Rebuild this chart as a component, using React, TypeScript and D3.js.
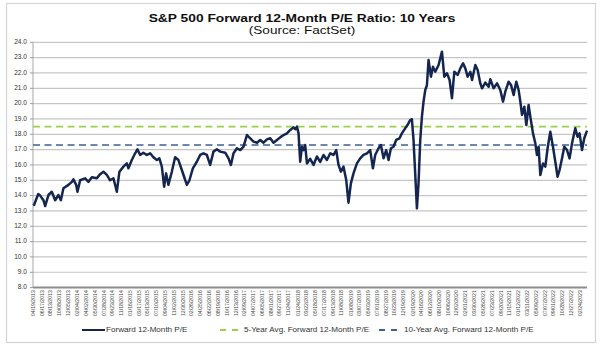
import React from "react";
import * as d3 from "d3";

const TITLE = "S&P 500 Forward 12-Month P/E Ratio: 10 Years";
const SUBTITLE = "(Source: FactSet)";

const X_LABELS = [
  "04/19/2013", "06/17/2013", "08/13/2013", "10/08/2013", "12/05/2013",
  "02/04/2014", "04/02/2014", "05/30/2014", "07/28/2014", "09/23/2014", "11/18/2014",
  "01/16/2015", "03/17/2015", "05/13/2015", "07/10/2015", "09/04/2015", "11/02/2015", "12/30/2015",
  "02/26/2016", "04/25/2016", "06/22/2016", "08/19/2016", "10/17/2016", "12/13/2016",
  "02/09/2017", "04/07/2017", "06/05/2017", "08/01/2017", "09/27/2017", "11/24/2017",
  "01/24/2018", "03/22/2018", "05/18/2018", "07/17/2018", "09/13/2018", "11/08/2018",
  "01/08/2019", "03/07/2019", "05/03/2019", "07/01/2019", "08/27/2019", "10/23/2019", "12/19/2019",
  "02/19/2020", "04/16/2020", "06/12/2020", "08/10/2020", "10/06/2020", "12/02/2020",
  "02/01/2021", "03/30/2021", "05/26/2021", "07/23/2021", "09/20/2021", "11/15/2021",
  "01/12/2022", "03/11/2022", "05/09/2022", "07/07/2022", "09/01/2022", "10/28/2022", "12/27/2022",
  "02/24/2023",
];

const Y_TICKS = [8, 9, 10, 11, 12, 13, 14, 15, 16, 17, 18, 19, 20, 21, 22, 23, 24];

const AVG_5Y = 18.5;
const AVG_10Y = 17.3;

const LEGEND_LABELS = [
  "Forward 12-Month P/E",
  "5-Year Avg. Forward 12-Month P/E",
  "10-Year Avg. Forward 12-Month P/E",
];

// [decimal year, forward 12-month P/E]
const FORWARD_PE: [number, number][] = [
  [2013.299, 13.35], [2013.317, 13.4], [2013.389, 14.1], [2013.425, 14.0], [2013.484, 13.7],
  [2013.515, 13.32], [2013.574, 14.04], [2013.635, 14.25], [2013.695, 13.7], [2013.754, 14.04],
  [2013.798, 13.7], [2013.844, 14.48], [2013.934, 14.7], [2013.996, 14.9], [2014.024, 15.06],
  [2014.073, 14.7], [2014.097, 14.25], [2014.145, 15.0], [2014.235, 15.13], [2014.295, 14.9],
  [2014.356, 15.2], [2014.446, 15.13], [2014.505, 15.4], [2014.565, 15.56], [2014.626, 15.35],
  [2014.685, 15.0], [2014.745, 15.13], [2014.806, 14.25], [2014.853, 15.56], [2014.925, 15.89],
  [2014.986, 16.1], [2015.015, 15.78], [2015.076, 16.32], [2015.136, 16.76], [2015.177, 17.02],
  [2015.226, 16.65], [2015.285, 16.8], [2015.346, 16.65], [2015.406, 16.76], [2015.465, 16.5],
  [2015.527, 16.32], [2015.573, 16.43], [2015.617, 15.89], [2015.658, 14.58], [2015.694, 15.45],
  [2015.735, 14.7], [2015.797, 15.56], [2015.856, 16.5], [2015.916, 16.32], [2015.977, 15.67],
  [2016.018, 15.23], [2016.067, 14.7], [2016.114, 15.0], [2016.175, 15.78], [2016.247, 16.21],
  [2016.306, 16.65], [2016.366, 16.76], [2016.427, 16.65], [2016.486, 16.0], [2016.546, 16.87],
  [2016.607, 17.02], [2016.667, 16.87], [2016.757, 16.8], [2016.816, 16.43], [2016.859, 16.0],
  [2016.906, 16.76], [2016.967, 17.09], [2017.027, 16.97], [2017.086, 17.19], [2017.147, 17.95],
  [2017.207, 17.74], [2017.266, 17.52], [2017.328, 17.45], [2017.387, 17.63], [2017.446, 17.45],
  [2017.508, 17.67], [2017.567, 17.74], [2017.626, 17.45], [2017.688, 17.63], [2017.747, 17.8],
  [2017.807, 17.95], [2017.868, 18.06], [2017.928, 18.28], [2017.987, 18.45], [2018.017, 18.33],
  [2018.048, 18.5], [2018.077, 18.06], [2018.107, 16.21], [2018.138, 17.19], [2018.167, 16.97],
  [2018.197, 17.3], [2018.228, 16.1], [2018.287, 16.4], [2018.347, 16.0], [2018.408, 16.55],
  [2018.467, 16.2], [2018.527, 16.65], [2018.588, 16.32], [2018.648, 16.76], [2018.707, 16.65],
  [2018.756, 16.97], [2018.797, 16.0], [2018.84, 15.56], [2018.887, 15.89], [2018.936, 15.02],
  [2018.977, 13.54], [2019.02, 14.8], [2019.067, 15.45], [2019.129, 16.1], [2019.188, 16.43],
  [2019.247, 16.65], [2019.309, 16.76], [2019.368, 16.97], [2019.417, 15.78], [2019.458, 16.65],
  [2019.518, 17.09], [2019.561, 17.3], [2019.608, 16.43], [2019.656, 16.97], [2019.698, 16.32],
  [2019.741, 17.09], [2019.788, 17.19], [2019.836, 17.63], [2019.896, 17.74], [2019.939, 18.06],
  [2019.998, 18.39], [2020.04, 18.6], [2020.088, 18.93], [2020.119, 18.98], [2020.148, 17.63],
  [2020.178, 15.45], [2020.209, 13.17], [2020.238, 14.8], [2020.269, 17.63], [2020.299, 19.15],
  [2020.328, 20.13], [2020.359, 20.89], [2020.389, 21.2], [2020.418, 22.85], [2020.461, 21.76],
  [2020.497, 22.4], [2020.539, 22.08], [2020.598, 22.52], [2020.659, 23.39], [2020.701, 21.76],
  [2020.749, 21.98], [2020.796, 21.54], [2020.839, 20.35], [2020.881, 22.08], [2020.94, 21.87],
  [2020.989, 22.3], [2021.038, 22.63], [2021.079, 22.3], [2021.12, 21.76], [2021.169, 22.08],
  [2021.2, 21.54], [2021.259, 22.52], [2021.301, 22.19], [2021.349, 21.32], [2021.38, 21.0],
  [2021.439, 21.37], [2021.499, 21.1], [2021.529, 21.59], [2021.589, 21.0], [2021.65, 21.32],
  [2021.709, 20.89], [2021.758, 20.13], [2021.799, 20.78], [2021.859, 21.43], [2021.902, 21.22],
  [2021.949, 20.56], [2021.997, 21.43], [2022.039, 20.89], [2022.07, 20.13], [2022.1, 19.26],
  [2022.142, 19.8], [2022.178, 18.6], [2022.219, 19.91], [2022.25, 19.15], [2022.298, 18.06],
  [2022.34, 17.41], [2022.37, 16.65], [2022.399, 17.19], [2022.43, 15.35], [2022.478, 16.1],
  [2022.52, 15.89], [2022.561, 17.09], [2022.61, 18.17], [2022.658, 17.19], [2022.7, 16.21],
  [2022.741, 15.23], [2022.777, 15.67], [2022.821, 16.43], [2022.862, 17.19], [2022.911, 16.97],
  [2022.957, 16.43], [2023.001, 17.41], [2023.06, 18.39], [2023.101, 17.84], [2023.137, 18.06],
  [2023.181, 16.97], [2023.222, 17.74], [2023.271, 18.24],
];

const W = 605;
const H = 351;
const FONT = "Liberation Sans, Arial, sans-serif";

function yearToDate(y: number): Date {
  const yr = Math.floor(y);
  const a = new Date(yr, 0, 1).getTime();
  const b = new Date(yr + 1, 0, 1).getTime();
  return new Date(a + (y - yr) * (b - a));
}

const parseLabel = d3.timeParse("%m/%d/%Y");

export default function App() {
  const left = 33;
  const right = 587;
  const top = 42.3;
  const bottom = 287.6;

  const pts = FORWARD_PE.map(([t, v]) => ({ date: yearToDate(t), v }));
  const x = d3
    .scaleTime()
    .domain([parseLabel(X_LABELS[0]) as Date, pts[pts.length - 1].date])
    .range([left, right]);
  const y = d3.scaleLinear().domain([8, 24]).range([bottom, top]);

  const line = d3
    .line<{ date: Date; v: number }>()
    .x((d) => x(d.date))
    .y((d) => y(d.v))
    .curve(d3.curveLinear);

  const legendY = 330;

  return (
    <svg
      width={W}
      height={H}
      style={{ position: "absolute", left: 0, top: 0, background: "#fff" }}
      fontFamily={FONT}
    >
      <rect x={0} y={0} width={W} height={H} fill="#fff" />
      <rect x={6.5} y={3.5} width={589} height={339} fill="#fff" stroke="#d4d4d4" strokeWidth={1.2} />

      <text
        transform="translate(302,21.5) scale(1,0.8)"
        textAnchor="middle"
        fontSize={13.8}
        fontWeight="bold"
        fill="#111"
      >
        {TITLE}
      </text>
      <text
        transform="translate(302,34) scale(1,0.82)"
        textAnchor="middle"
        fontSize={13.6}
        fill="#111"
      >
        {SUBTITLE}
      </text>

      {/* gridlines */}
      {Y_TICKS.map((t) => (
        <g key={t}>
          {t > 8 && (
            <line x1={left} x2={right} y1={y(t)} y2={y(t)} stroke="#c6c6c6" strokeWidth={1.2} />
          )}
          <line x1={left - 3} x2={left} y1={y(t)} y2={y(t)} stroke="#999" strokeWidth={1} />
          <text
            x={left - 6}
            y={y(t)}
            textAnchor="end"
            dominantBaseline="middle"
            fontSize={6.6}
            fill="#333"
          >
            {t.toFixed(1)}
          </text>
        </g>
      ))}

      {/* axes */}
      <line x1={left} x2={left} y1={top} y2={bottom} stroke="#a6a6a6" strokeWidth={1} />
      <line x1={left} x2={right} y1={bottom} y2={bottom} stroke="#8c8c8c" strokeWidth={2} />

      {/* x labels */}
      {X_LABELS.map((s) => {
        const xx = x(parseLabel(s) as Date);
        return (
          <text
            key={s}
            transform={`translate(${xx + 1.8},${bottom + 2.5}) rotate(-90)`}
            textAnchor="end"
            fontSize={5.2}
            fill="#444"
          >
            {s}
          </text>
        );
      })}

      {/* averages */}
      <line
        x1={left}
        x2={right}
        y1={y(AVG_5Y)}
        y2={y(AVG_5Y)}
        stroke="#9bd04a"
        strokeWidth={1.6}
        strokeDasharray="7 4.5"
      />
      <line
        x1={left}
        x2={right}
        y1={y(AVG_10Y)}
        y2={y(AVG_10Y)}
        stroke="#3b5f98"
        strokeWidth={1.6}
        strokeDasharray="7 4.5"
      />

      {/* main line */}
      <path d={line(pts) || ""} fill="none" stroke="#14264f" strokeWidth={2.5} strokeLinejoin="round" />

      {/* legend */}
      <line x1={82} x2={105} y1={legendY} y2={legendY} stroke="#14264f" strokeWidth={2} />
      <text x={106} y={legendY} dominantBaseline="middle" fontSize={8.1} fill="#333">
        {LEGEND_LABELS[0]}
      </text>
      <line x1={220} x2={239} y1={legendY} y2={legendY} stroke="#9bd04a" strokeWidth={2} strokeDasharray="6 6" />
      <text x={244} y={legendY} dominantBaseline="middle" fontSize={8.1} fill="#333">
        {LEGEND_LABELS[1]}
      </text>
      <line x1={379} x2={398} y1={legendY} y2={legendY} stroke="#3b5f98" strokeWidth={2} strokeDasharray="6 6" />
      <text x={404} y={legendY} dominantBaseline="middle" fontSize={8.1} fill="#333">
        {LEGEND_LABELS[2]}
      </text>
    </svg>
  );
}
